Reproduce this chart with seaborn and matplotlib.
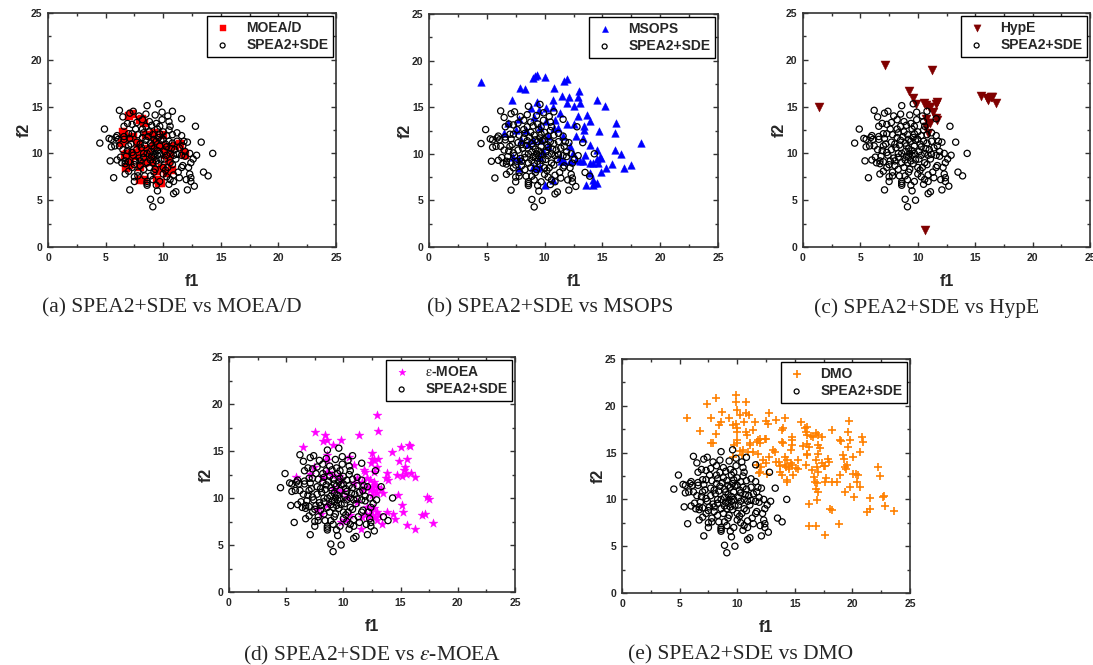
import pandas as pd
import seaborn as sns
import matplotlib.pyplot as plt
from matplotlib.ticker import MultipleLocator

# SPEA2+SDE - tas pats taškų debesis visuose penkiuose grafikuose (f1, f2)
spea2 = [
    (4.5, 11.1), (4.9, 12.6), (5.3, 11.6), (5.5, 11.5), (5.5, 10.7), (5.8, 10.8), (5.4, 9.2), (5.7, 7.4),
    (6.0, 11.9), (6.1, 11.5), (6.2, 14.6), (6.0, 9.3), (6.3, 9.6), (6.4, 9.0), (6.5, 13.9), (6.6, 12.9),
    (6.6, 11.8), (6.6, 11.5), (6.5, 10.4), (6.7, 9.2), (6.7, 8.9), (6.7, 7.8), (6.9, 13.2), (7.0, 12.1),
    (7.0, 10.8), (7.0, 9.1), (7.0, 8.1), (7.1, 6.1), (7.1, 14.3), (7.4, 14.5), (7.3, 13.1), (7.3, 12.1),
    (7.2, 11.0), (7.3, 10.1), (7.4, 9.8), (7.5, 8.8), (7.3, 8.5), (7.5, 7.5), (7.5, 7.0), (7.7, 13.3),
    (7.8, 12.0), (7.7, 11.2), (7.7, 10.4), (7.9, 9.5), (7.8, 8.0), (7.8, 7.6), (8.0, 11.0), (8.0, 9.2),
    (8.2, 12.6), (8.2, 13.6), (8.2, 11.7), (8.3, 10.0), (8.3, 8.3), (8.4, 7.6), (8.5, 12.9), (8.5, 11.4),
    (8.6, 10.0), (8.6, 9.0), (8.6, 6.8), (8.6, 6.6), (8.6, 7.0), (8.6, 15.1), (8.8, 13.4), (8.8, 12.3),
    (8.9, 11.1), (8.9, 10.2), (8.9, 9.3), (8.8, 8.5), (8.9, 7.6), (8.9, 5.1), (9.1, 4.3), (9.0, 13.0),
    (9.1, 12.0), (9.2, 11.5), (9.2, 10.5), (9.2, 9.6), (9.1, 9.0), (9.3, 8.3), (9.4, 13.2), (9.5, 12.6),
    (9.4, 11.3), (9.5, 10.3), (9.5, 9.8), (9.4, 9.2), (9.4, 6.6), (9.5, 6.0), (9.6, 15.3), (9.7, 12.9),
    (9.7, 12.1), (9.7, 10.8), (9.7, 10.0), (9.6, 8.9), (9.7, 7.0), (9.8, 5.0), (9.9, 14.4), (10.0, 12.3),
    (10.0, 11.5), (10.1, 10.2), (10.0, 8.5), (10.0, 7.8), (10.3, 11.9), (10.3, 10.7), (10.3, 9.8), (10.3, 7.5),
    (10.4, 8.5), (10.4, 14.0), (10.5, 13.4), (10.5, 12.5), (10.5, 11.3), (10.6, 10.0), (10.6, 9.0), (10.6, 7.2),
    (10.5, 6.7), (10.8, 14.5), (10.8, 12.0), (10.8, 11.1), (10.9, 9.8), (10.8, 8.8), (10.9, 7.7), (10.9, 7.0),
    (10.9, 5.7), (11.1, 5.9), (11.2, 12.2), (11.2, 11.3), (11.2, 9.9), (11.3, 8.0), (11.6, 13.7), (11.6, 11.9),
    (11.7, 10.8), (11.6, 9.8), (11.7, 8.7), (11.6, 8.5), (11.8, 11.3), (11.9, 10.2), (11.9, 9.7), (12.0, 7.2),
    (12.1, 6.1), (12.3, 10.0), (12.3, 7.8), (12.4, 7.4), (12.4, 9.0), (12.4, 7.0), (12.6, 9.4), (12.7, 6.5),
    (12.8, 12.9), (12.9, 9.8), (13.3, 11.2), (13.5, 8.0), (13.9, 7.6), (14.3, 10.0),
    (8.1, 10.6), (8.4, 10.9), (8.7, 11.8), (9.0, 10.8), (9.3, 10.0), (9.0, 9.7), (9.8, 11.4), (10.2, 11.0),
    (10.1, 9.4), (9.8, 9.3), (8.3, 12.2), (7.6, 12.6), (7.1, 11.6), (6.9, 10.3), (8.0, 8.7), (9.2, 8.0),
    (10.2, 8.2), (11.0, 10.4), (11.4, 10.6), (10.6, 12.9), (9.9, 13.6), (9.3, 14.1), (8.5, 14.2), (7.9, 14.0),
    (6.2, 10.8), (5.9, 11.7), (6.8, 9.7), (7.6, 9.2), (11.1, 9.4), (11.4, 7.4), (12.1, 11.2), (12.2, 8.5),
    (9.1, 7.2), (8.3, 9.6), (10.7, 10.5), (9.6, 11.7),
]

moead = [
    (7.0, 14.0), (7.3, 14.2), (8.0, 13.6), (8.2, 13.7), (8.3, 13.3), (7.4, 11.8), (6.6, 12.1), (6.7, 11.5),
    (7.1, 11.6), (8.5, 12.0), (9.2, 12.2), (9.3, 11.25), (6.85, 9.9), (7.3, 10.0), (7.6, 9.7), (6.7, 9.8),
    (7.4, 9.8), (6.8, 8.4), (7.0, 8.8), (7.1, 9.0), (8.0, 8.6), (8.0, 7.2), (8.3, 7.2), (8.3, 9.0),
    (8.6, 9.7), (9.0, 9.3), (9.0, 9.1), (8.7, 10.5), (9.5, 7.2), (9.6, 6.8), (9.85, 6.8), (9.5, 8.1),
    (9.9, 8.4), (10.35, 7.9), (10.5, 9.15), (9.8, 10.8), (10.2, 10.6), (10.2, 9.8), (10.5, 10.7), (10.6, 10.0),
    (11.0, 10.8), (11.5, 11.0), (11.8, 10.0), (11.9, 9.8), (9.2, 10.75), (8.75, 9.5), (8.0, 10.2), (6.4, 11.1),
    (6.5, 12.3), (10.0, 12.0), (10.8, 8.2), (7.8, 11.0),
]

msops = [
    (4.47, 17.75), (7.2, 15.8), (7.9, 17.1), (8.3, 16.9), (9.0, 18.1), (9.2, 18.4), (9.35, 18.5), (10.0, 18.2),
    (10.8, 17.1), (9.3, 15.6), (11.7, 17.8), (11.9, 18.0), (11.5, 16.25), (12.1, 16.1), (11.9, 15.4), (12.9, 16.1),
    (13.0, 16.7), (13.1, 15.4), (12.5, 15.1), (14.5, 15.8), (15.2, 15.1), (10.7, 15.0), (10.1, 14.9), (9.5, 14.7),
    (8.8, 14.9), (7.75, 13.7), (6.8, 13.3), (6.45, 12.2), (9.1, 14.0), (10.1, 13.5), (10.9, 13.6), (11.9, 13.2),
    (12.9, 14.1), (13.65, 14.2), (13.9, 13.5), (13.4, 13.0), (13.45, 12.6), (12.5, 13.2), (12.7, 11.9), (13.3, 11.7),
    (13.9, 10.9), (14.7, 12.5), (16.2, 13.3), (16.1, 12.2), (16.1, 10.4), (16.6, 10.0), (18.35, 11.2), (17.5, 8.8),
    (16.9, 8.5), (15.8, 8.9), (15.3, 8.5), (14.9, 8.1), (14.5, 9.4), (14.6, 9.0), (14.2, 9.0), (13.9, 9.0),
    (14.75, 9.7), (14.9, 9.5), (14.55, 10.4), (13.5, 9.9), (13.3, 9.2), (13.1, 9.2), (12.7, 9.35), (14.2, 7.2),
    (14.3, 6.9), (14.5, 6.9), (13.6, 6.6), (14.2, 6.7), (13.9, 7.9), (12.2, 9.2), (11.7, 9.2), (11.4, 9.2),
    (12.2, 10.8), (11.6, 11.9), (11.15, 12.75), (10.8, 12.75), (10.3, 11.9), (9.7, 11.5), (9.0, 11.5), (9.6, 9.7),
    (10.3, 10.8), (9.9, 10.25), (7.3, 9.7), (7.8, 9.4), (7.8, 8.5), (10.0, 6.7), (10.7, 7.2), (9.0, 8.6),
    (9.6, 8.6), (9.3, 8.5), (11.3, 9.7), (12.45, 10.1), (8.55, 11.0), (8.0, 11.5), (7.55, 12.6), (8.4, 12.6),
    (9.6, 12.9), (11.3, 14.4), (10.7, 15.8),
]

hype = [
    (1.4, 15.0), (7.15, 19.4), (11.25, 18.9), (9.25, 16.7), (9.55, 15.9), (9.8, 15.3), (10.55, 15.4),
    (10.7, 15.2), (11.0, 15.0), (11.1, 15.0), (11.7, 15.45), (11.6, 15.3), (11.3, 14.4), (10.75, 13.7),
    (10.9, 13.3), (11.1, 13.25), (11.6, 13.8), (11.7, 13.6), (10.7, 12.8), (10.9, 12.2), (10.65, 1.85),
    (15.5, 16.1), (16.0, 15.9), (16.1, 15.7), (16.4, 16.0), (16.5, 16.0), (16.8, 15.4),
]

emoea = [
    (5.85, 12.2), (6.45, 15.4), (7.55, 17.0), (8.35, 16.75), (8.2, 16.1), (8.55, 16.2), (9.05, 15.65), (9.75, 16.2),
    (11.35, 16.7), (12.9, 18.85), (13.0, 17.1), (12.5, 14.8), (12.5, 14.2), (12.65, 14.05), (13.0, 14.2), (12.45, 13.7),
    (12.95, 13.3), (12.65, 12.8), (11.8, 13.0), (11.9, 12.8), (12.1, 12.1), (12.35, 11.9), (12.65, 11.7), (12.8, 11.4),
    (12.95, 11.2), (12.5, 11.2), (12.35, 10.85), (12.65, 10.7), (12.95, 10.5), (12.5, 10.3), (12.15, 11.2), (13.7, 12.1),
    (13.8, 12.7), (13.9, 11.9), (13.25, 10.95), (14.25, 14.9), (14.85, 13.9), (15.0, 15.4), (14.7, 12.4), (15.35, 13.3),
    (15.3, 13.0), (15.15, 12.3), (15.45, 12.6), (15.6, 14.2), (15.7, 15.65), (15.8, 15.5), (15.9, 12.7), (16.3, 12.2),
    (14.75, 10.3), (15.15, 9.25), (15.25, 8.55), (13.5, 10.5), (13.8, 8.55), (14.35, 8.35), (14.55, 7.75), (13.4, 7.2),
    (15.6, 7.1), (16.3, 6.75), (16.9, 8.2), (17.15, 8.35), (17.35, 10.15), (17.5, 9.9), (17.85, 7.3), (12.1, 9.05),
    (12.4, 8.7), (12.65, 8.9), (12.95, 8.55), (11.95, 8.35), (11.65, 8.0), (12.2, 8.0), (12.5, 8.2), (12.8, 8.0),
    (13.1, 8.2), (12.95, 7.65), (11.5, 6.75), (11.2, 12.1), (11.65, 11.75), (8.55, 12.8), (9.0, 12.45), (8.25, 12.1),
    (8.6, 14.05), (8.6, 14.6), (9.6, 12.3), (9.75, 11.9), (10.9, 13.5), (10.45, 14.4), (7.4, 13.3), (7.1, 12.6),
    (9.15, 11.0), (9.45, 10.85), (8.55, 9.25), (9.9, 10.7), (10.3, 10.1), (9.75, 7.45), (10.2, 7.65), (8.0, 8.35),
    (7.7, 8.7), (10.6, 8.2), (11.2, 9.6), (10.9, 11.55), (11.65, 10.85),
]

dmo = [
    (5.6, 18.65), (6.75, 17.35), (7.35, 20.15), (7.7, 18.7), (8.15, 20.8), (7.75, 16.0), (7.9, 16.0), (8.45, 17.95),
    (8.6, 18.3), (8.65, 19.35), (8.15, 16.95), (9.3, 18.75), (9.65, 17.95), (9.9, 18.1), (9.9, 21.15), (9.9, 20.45),
    (9.95, 19.55), (10.25, 19.0), (9.95, 17.6), (9.95, 17.2), (10.6, 18.3), (10.75, 20.45), (10.8, 19.2), (11.05, 19.0),
    (10.8, 17.2), (10.85, 16.9), (11.4, 17.4), (11.55, 18.3), (9.95, 16.3), (10.0, 16.0), (9.65, 14.55), (10.4, 14.7),
    (10.5, 15.25), (11.1, 15.8), (10.95, 15.1), (11.4, 15.1), (11.8, 14.9), (11.7, 16.15), (11.8, 16.3), (11.95, 16.5),
    (12.25, 14.2), (12.1, 13.5), (12.45, 16.4), (12.5, 18.4), (12.7, 18.05), (12.8, 19.25), (13.35, 18.45), (14.15, 18.65),
    (13.3, 15.1), (13.1, 15.25), (12.55, 12.75), (11.95, 12.95), (13.35, 14.0), (13.6, 14.0), (13.85, 17.4), (13.95, 17.6),
    (13.85, 16.15), (14.0, 16.0), (14.15, 14.55), (14.3, 14.2), (14.15, 13.65), (14.2, 13.5), (13.85, 12.6), (13.7, 12.95),
    (14.3, 12.05), (14.35, 11.9), (14.8, 16.7), (14.8, 16.35), (14.8, 15.8), (14.7, 15.25), (14.7, 13.85), (14.8, 13.65),
    (14.5, 13.5), (14.85, 12.6), (15.3, 14.2), (15.5, 18.3), (15.75, 15.7), (15.9, 17.6), (16.05, 17.75), (16.0, 17.2),
    (16.1, 16.85), (16.1, 15.9), (16.2, 15.6), (16.1, 14.9), (16.05, 14.7), (16.0, 13.65), (16.2, 9.55), (16.2, 7.15),
    (16.4, 16.8), (16.6, 16.7), (16.85, 17.05), (17.05, 16.85), (17.35, 16.7), (17.05, 15.8), (17.2, 15.45), (17.0, 14.9),
    (16.85, 14.25), (16.9, 13.5), (17.0, 12.95), (16.7, 12.4), (16.75, 11.9), (16.95, 11.7), (16.85, 11.15), (17.0, 10.8),
    (16.9, 9.95), (16.45, 13.1), (16.85, 7.15), (17.4, 13.85), (17.55, 13.55), (17.6, 13.55), (17.6, 11.9), (17.75, 12.25),
    (17.6, 6.15), (18.2, 17.4), (17.9, 14.35), (18.0, 14.0), (18.2, 11.9), (18.7, 11.9), (18.05, 9.0), (18.2, 8.85),
    (18.85, 7.4), (18.95, 16.35), (19.05, 16.25), (19.15, 14.75), (19.3, 14.35), (19.35, 13.5), (19.55, 13.65), (19.45, 13.3),
    (19.7, 18.4), (19.65, 17.2), (19.75, 16.35), (19.65, 15.6), (19.35, 10.8), (19.75, 11.35), (18.9, 12.6), (20.05, 12.75),
    (20.3, 12.75), (20.5, 12.6), (20.05, 14.5), (20.1, 10.25), (20.4, 11.85), (20.7, 11.35), (20.8, 16.7), (20.9, 16.15),
    (20.7, 15.1), (21.25, 8.65), (21.5, 10.1), (21.55, 9.0), (22.25, 13.45), (22.4, 12.5), (22.65, 10.25), (22.75, 10.35),
    (22.85, 9.3), (23.65, 8.8), (9.7, 15.8), (10.2, 15.2), (11.1, 16.0), (12.0, 16.0), (12.5, 16.5), (11.7, 13.7),
    (12.5, 13.85), (11.85, 12.8), (12.8, 14.55), (13.75, 13.6), (14.5, 13.2), (15.1, 13.4), (15.25, 13.2),
]

sns.set_style("ticks")
plt.rcParams['font.family'] = ['Liberation Sans', 'DejaVu Sans']
plt.rcParams['mathtext.fontset'] = 'stix'

fig = plt.figure(figsize=(10.93, 6.65), dpi=100)
W, H = 1093, 665

spea_df = pd.DataFrame(spea2, columns=['f1', 'f2'])

# kiekvienam grafikui: taškai, pavadinimas, žymeklis, spalva, dydis, antraštė, ašių vieta pikseliais
grafikai = [
    (moead, 'MOEA/D', 's', '#ff0000', 30, '(a) SPEA2+SDE vs MOEA/D', (48, 13, 336, 247), 172),
    (msops, 'MSOPS', '^', '#0000ff', 30, '(b) SPEA2+SDE vs MSOPS', (429, 14, 718, 247), 550),
    (hype, 'HypE', 'v', '#800000', 42, '(c) SPEA2+SDE vs HypE', (803, 13, 1090, 247), 927),
    (emoea, '$\\mathrm{\\varepsilon}$-MOEA', '*', '#ff00ff', 45, '(d) SPEA2+SDE vs $\\epsilon$-MOEA', (229, 357, 515, 592), 372),
    (dmo, 'DMO', '+', '#ff8000', 40, '(e) SPEA2+SDE vs DMO', (622, 359, 910, 593), 741),
]

for pts, name, mk, col, sz, caption, (x0, y0, x1, y1), cx in grafikai:
    ax = fig.add_axes([x0 / W, 1 - y1 / H, (x1 - x0) / W, (y1 - y0) / H])
    df = pd.DataFrame(pts, columns=['f1', 'f2'])
    if mk == '+':
        sns.scatterplot(data=df, x='f1', y='f2', ax=ax, marker=mk, color=col, s=sz,
                        linewidth=1.2, label=name, zorder=2)
    else:
        sns.scatterplot(data=df, x='f1', y='f2', ax=ax, marker=mk, color=col, s=sz,
                        edgecolor=col, linewidth=0.3, label=name, zorder=2)
    sns.scatterplot(data=spea_df, x='f1', y='f2', ax=ax, marker='o', color='black',
                    facecolor='none', edgecolor='black', linewidth=0.9, s=20,
                    label='SPEA2+SDE', zorder=3)

    ax.set_xlim(0, 25)
    ax.set_ylim(0, 25)
    ax.xaxis.set_major_locator(MultipleLocator(5))
    ax.yaxis.set_major_locator(MultipleLocator(5))
    ax.xaxis.set_minor_locator(MultipleLocator(2.5))
    ax.yaxis.set_minor_locator(MultipleLocator(2.5))
    ax.tick_params(which='both', direction='in', top=True, right=True, width=1, color='#333333')
    ax.tick_params(which='major', length=3.5, labelsize=7.5, pad=4)
    ax.tick_params(which='minor', length=2)
    for lbl in ax.get_xticklabels() + ax.get_yticklabels():
        lbl.set_fontweight('bold')
    for sp in ax.spines.values():
        sp.set_linewidth(1.2)
        sp.set_color('#333333')

    ax.set_xlabel('f1', fontsize=11.5, fontweight='bold')
    ax.set_ylabel('f2', fontsize=11.5, fontweight='bold')
    ax.xaxis.set_label_coords(0.5, -0.115)
    ax.yaxis.set_label_coords(-0.055, 0.5)

    leg = ax.legend(loc='upper right', fancybox=False, edgecolor='black', framealpha=1,
                    prop={'weight': 'bold', 'size': 10}, borderaxespad=0.2, borderpad=0.35,
                    labelspacing=0.25, handletextpad=0.9, handlelength=1.6, markerscale=0.8)
    leg.get_frame().set_linewidth(1.0)

    cap_y = 308 if y0 < 100 else 655
    fig.text(cx / W, 1 - cap_y / H, caption, ha='center', va='center',
             fontsize=15.5, family=['Liberation Serif', 'DejaVu Serif'])

plt.savefig('out.png', dpi=100)
